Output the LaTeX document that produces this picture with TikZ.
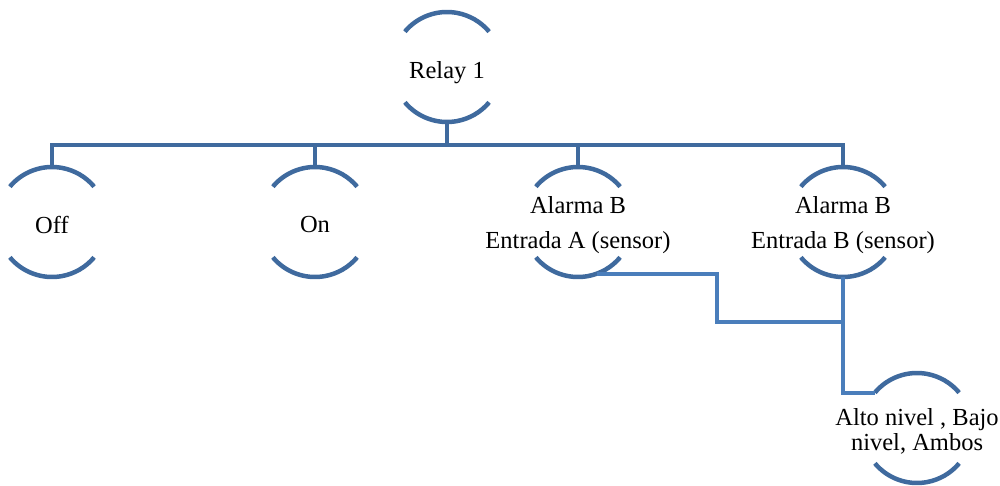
\documentclass[tikz,border=0pt]{standalone}
\usepackage{fontspec}
\setmainfont{Liberation Serif}
\usetikzlibrary{positioning,calc}
\definecolor{treeblue}{RGB}{63,106,158}
\definecolor{linkblue}{RGB}{74,126,187}

\begin{document}
\begin{tikzpicture}[x=1pt,y=1pt,
          ring/.style={circle,minimum size=110pt,inner sep=0pt,outer sep=0pt},
          txt/.style ={align=center,inner sep=0pt,yshift=-3pt,font=\fontsize{24.5}{35}\selectfont},
          arcline/.style={draw=treeblue,line width=4.5pt},
          tree/.style={draw=treeblue,line width=4.5pt},
          link/.style={draw=linkblue,line width=4pt}]
        \useasboundingbox (0,0) rectangle (1000,485);
        \node[ring] (relay) at (447,418) {};
        \node[ring] (off) at (52,263) {};
        \node[ring] (on) at (315,263) {};
        \node[ring] (ala) at (578,263) {};
        \node[ring] (alb) at (843,263) {};
        \node[ring] (niv) at (917,57) {};
        \node[txt,yshift=-3pt] (relay-t) at (relay) {Relay 1};
        \node[txt] (off-t) at (off) {Off};
        \node[txt] (on-t) at (on) {On};
        \node[txt] (ala-t) at (ala) {Alarma B\\Entrada A (sensor)};
        \node[txt] (alb-t) at (alb) {Alarma B\\Entrada B (sensor)};
        \node[txt,font=\fontsize{24.5}{25}\selectfont] (niv-t) at (niv) {Alto nivel , Bajo\\nivel, Ambos};
        % arcs above and below each text
        \foreach \n in {relay,off,on,ala,alb,niv} {
          \draw[arcline] (\n.140) arc[start angle=140,end angle=40,radius=55];
          \draw[arcline] (\n.220) arc[start angle=220,end angle=320,radius=55];
        }
        % tree
        \coordinate (bus) at (447,340);
        \foreach \c in {off,on,ala,alb}
          \draw[tree] (relay.south) -- (bus) -| (\c.north);
        \coordinate (jog) at (717,163);
        \draw[link] (ala.-70) -| (jog) -- (jog -| alb.south);
        \draw[link] (alb.south) |- (niv.140);
      \end{tikzpicture}
\end{document}
